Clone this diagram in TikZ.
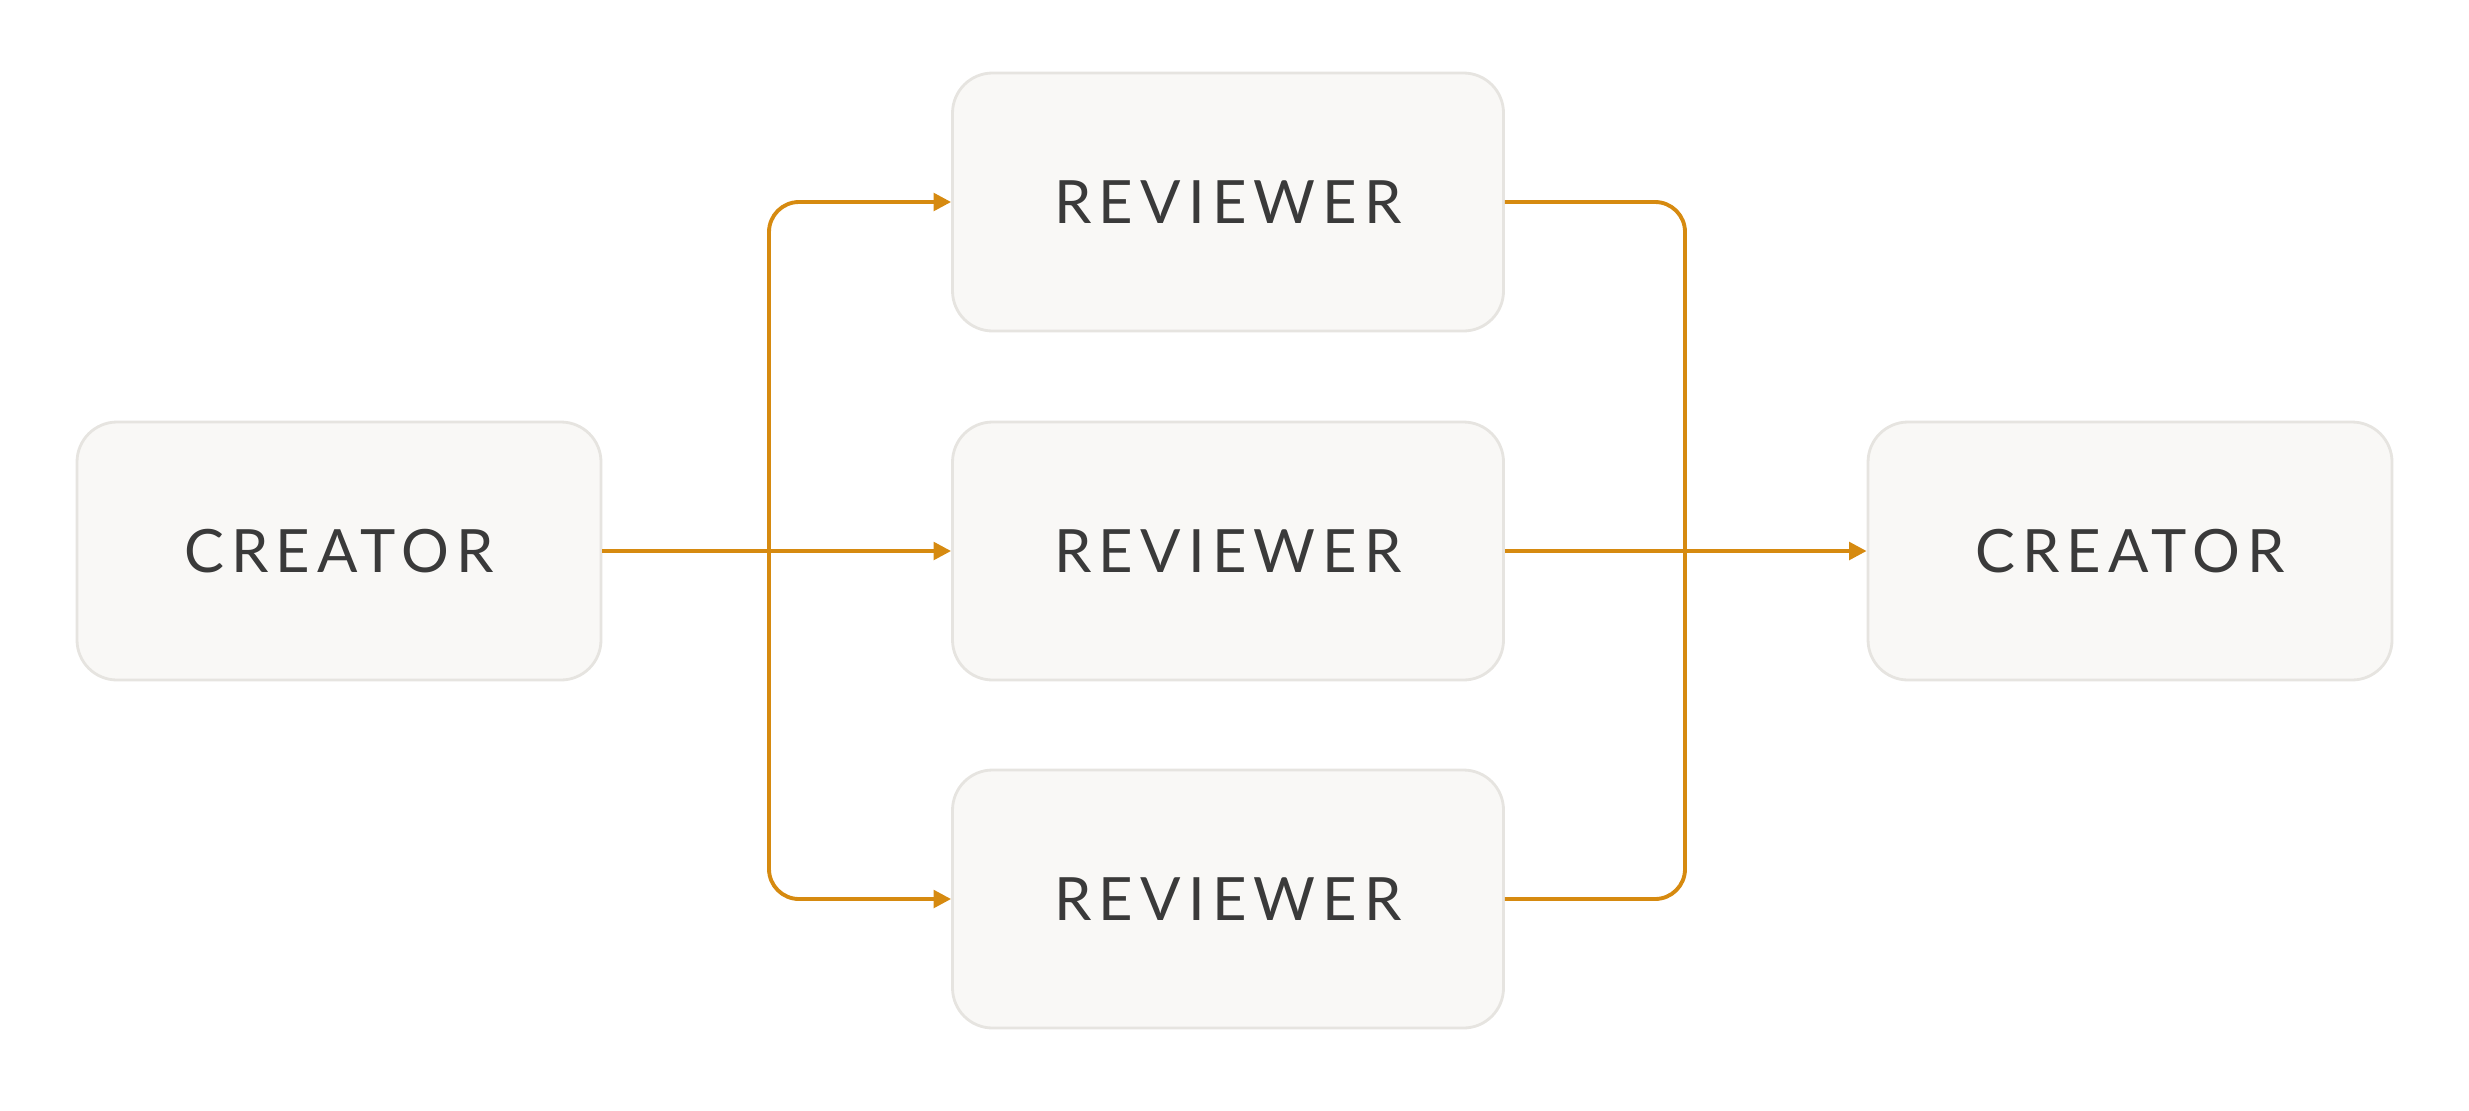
\documentclass[tikz,border=0pt]{standalone}
\usepackage{fontspec}
\setmainfont[LetterSpace=12]{Lato}
\usetikzlibrary{arrows.meta}
\definecolor{boxfill}{HTML}{F9F8F6}
\definecolor{boxline}{HTML}{E6E4E0}
\definecolor{flowcol}{HTML}{D68A10}
\definecolor{txt}{HTML}{3A3A3A}
\tikzset{
  agent/.style={draw=boxline, line width=0.8pt, fill=boxfill, rounded corners=0.4cm,
    minimum height=2.58cm, text=txt, font=\fontsize{17}{20}\selectfont},
  flow/.style={draw=flowcol, line width=1.1pt, rounded corners=0.3cm},
  tip/.style={-{Triangle[length=5pt,width=5pt]}}
}
\begin{document}
\begin{tikzpicture}
    \useasboundingbox (0,0) rectangle (24.69,11.10);
        \node[agent, minimum width=5.24cm] (c1) at (3.39, 5.59) {CREATOR};
        \node[agent, minimum width=5.51cm] (r1) at (12.28, 9.08) {REVIEWER};
        \node[agent, minimum width=5.51cm] (r2) at (12.28, 5.59) {REVIEWER};
        \node[agent, minimum width=5.51cm] (r3) at (12.28, 2.11) {REVIEWER};
        \node[agent, minimum width=5.24cm] (c2) at (21.30, 5.59) {CREATOR};
        \coordinate (split) at (7.69, 5.59);
        \coordinate (join) at (16.85, 5.59);

        % fan out
        \draw[flow, tip] (c1) -- (r2);
        \draw[flow, tip] (split) |- (r1.west);
        \draw[flow, tip] (split) |- (r3.west);
        % fan in
        \draw[flow, tip] (r2) -- (c2);
        \draw[flow] (r1.east) -| (join);
        \draw[flow] (r3.east) -| (join);
    \end{tikzpicture}
\end{document}
